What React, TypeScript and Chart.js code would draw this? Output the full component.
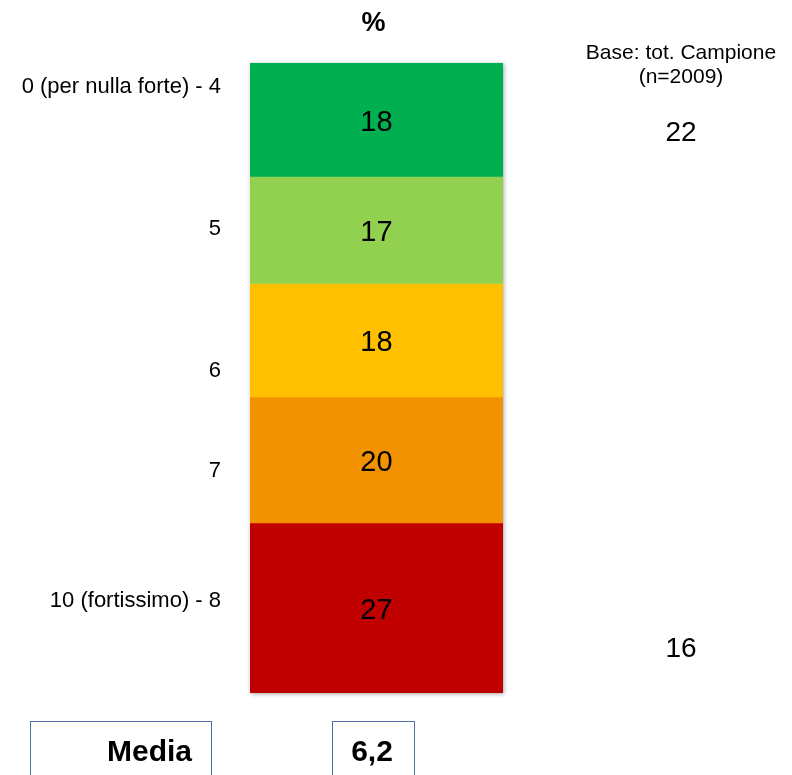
import React, { useEffect, useRef } from "react";
import { Chart, registerables } from "chart.js";

Chart.register(...registerables);

const categories = ["Totale"];
const segmentLabels = ["0 (per nulla forte) - 4", "5", "6", "7", "10 (fortissimo) - 8"];
const segmentValues = [18, 17, 18, 20, 27];
const segmentColors = ["#00B050", "#92D050", "#FFC000", "#F39200", "#C00000"];
// where each left label sits along the 0-100 stacked axis
const leftLabelPos = [3.5, 26, 48.6, 64.4, 85.1];
const baseTitle = ["Base: tot. Campione", "(n=2009)"];
const compareValues = ["22", "16"];
const comparePos = [10.8, 92.7];
const mediaLabel = "Media";
const mediaValue = "6,2";
const FONT = "'Liberation Sans', Arial, sans-serif";

const overlayPlugin = {
  id: "overlay",
  beforeDatasetsDraw(chart: any) {
    const { ctx, chartArea } = chart;
    ctx.save();
    ctx.shadowColor = "rgba(0,0,0,0.35)";
    ctx.shadowBlur = 4;
    ctx.shadowOffsetX = 1;
    ctx.shadowOffsetY = 1;
    ctx.fillStyle = "#ffffff";
    ctx.fillRect(chartArea.left, chartArea.top, chartArea.right - chartArea.left, chartArea.bottom - chartArea.top);
    ctx.restore();
  },
  afterDatasetsDraw(chart: any) {
    const { ctx, chartArea } = chart;
    const y = chart.scales.y;
    const cx = (chartArea.left + chartArea.right) / 2;
    ctx.save();
    ctx.fillStyle = "#000";
    ctx.textBaseline = "middle";
    // values inside segments
    ctx.textAlign = "center";
    ctx.font = `29px ${FONT}`;
    chart.data.datasets.forEach((ds: any, i: number) => {
      const el = chart.getDatasetMeta(i).data[0];
      const { x, y: yy, base } = el.getProps(["x", "y", "base"], true);
      ctx.fillText(String(ds.data[0]), x, (yy + base) / 2 + 3);
    });
    // title %
    ctx.font = `bold 27px ${FONT}`;
    ctx.fillText("%", cx - 3, chartArea.top - 39);
    // left labels
    ctx.textAlign = "right";
    ctx.font = `22px ${FONT}`;
    segmentLabels.forEach((lab, i) => {
      ctx.fillText(lab, chartArea.left - 29, y.getPixelForValue(leftLabelPos[i]) + 2);
    });
    // right side
    ctx.textAlign = "center";
    const rx = 681;
    ctx.font = `21px ${FONT}`;
    ctx.fillText(baseTitle[0], rx, chartArea.top - 10);
    ctx.fillText(baseTitle[1], rx, chartArea.top + 14);
    ctx.font = `28px ${FONT}`;
    compareValues.forEach((v, i) => {
      ctx.fillText(v, rx, y.getPixelForValue(comparePos[i]) + 2);
    });
    // bottom boxes
    const boxTop = chartArea.bottom + 28;
    ctx.strokeStyle = "#4F6FA8";
    ctx.lineWidth = 1;
    ctx.strokeRect(30.5, boxTop + 0.5, 181, 80);
    ctx.strokeRect(332.5, boxTop + 0.5, 82, 80);
    ctx.font = `bold 30px ${FONT}`;
    ctx.textAlign = "right";
    ctx.fillText(mediaLabel, 192, boxTop + 32);
    ctx.textAlign = "center";
    ctx.fillText(mediaValue, 372, boxTop + 32);
    ctx.restore();
  },
};

export default function App() {
  const ref = useRef<HTMLCanvasElement>(null);
  useEffect(() => {
    if (!ref.current) return;
    const chart = new Chart(ref.current, {
      type: "bar",
      data: {
        labels: categories,
        datasets: segmentValues.map((v, i) => ({
          label: segmentLabels[i],
          data: [v],
          backgroundColor: segmentColors[i],
          borderWidth: 0,
          barPercentage: 1,
          categoryPercentage: 1,
        })),
      },
      options: {
        responsive: false,
        animation: false,
        layout: { padding: { left: 250, right: 289, top: 63, bottom: 82 } },
        plugins: { legend: { display: false }, tooltip: { enabled: false } },
        scales: {
          x: { stacked: true, display: false },
          y: { stacked: true, display: false, min: 0, max: 100, reverse: true },
        },
      },
      plugins: [overlayPlugin],
    });
    return () => chart.destroy();
  }, []);
  return (
    <div style={{ position: "fixed", left: 0, top: 0, width: 792, height: 775, background: "#fff" }}>
      <canvas ref={ref} width={792} height={775} style={{ display: "block", width: 792, height: 775 }} />
    </div>
  );
}
